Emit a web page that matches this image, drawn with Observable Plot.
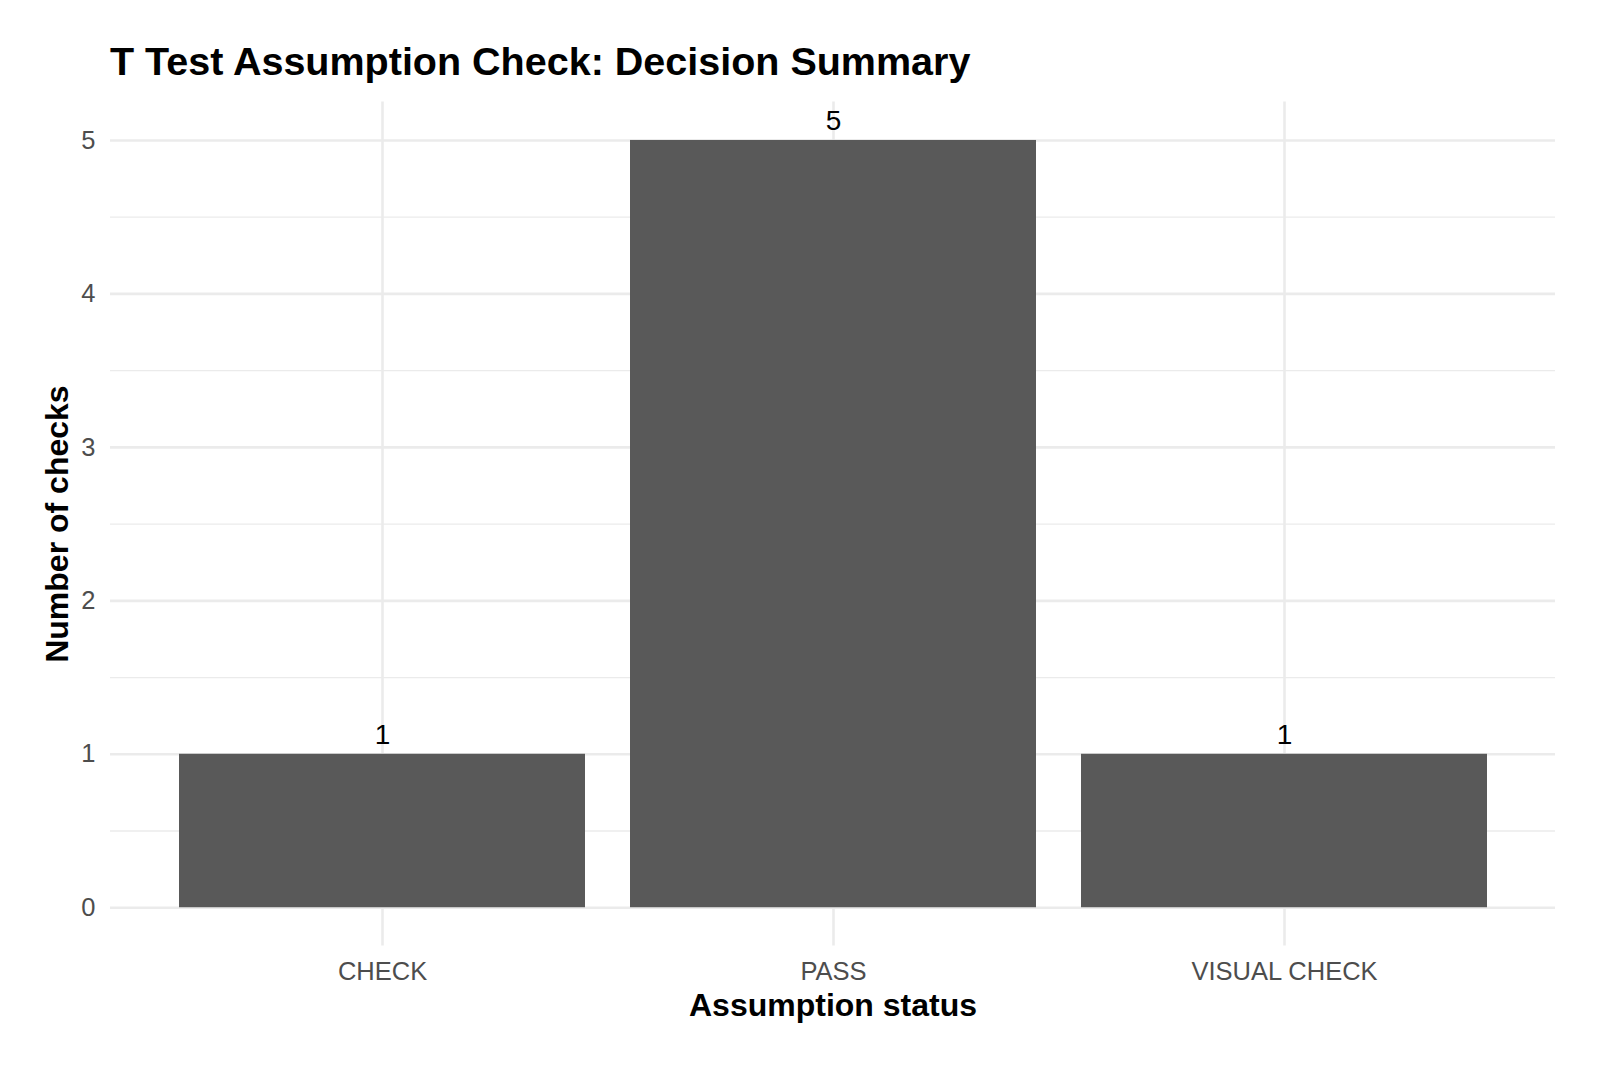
<!DOCTYPE html>
<html>
<head>
<meta charset="utf-8">
<script src="https://cdn.jsdelivr.net/npm/d3@7"></script>
<script src="https://cdn.jsdelivr.net/npm/@observablehq/plot@0.6"></script>
<style>
  html, body { margin: 0; padding: 0; background: #ffffff; }
  #wrap { width: 1600px; height: 1067px; position: relative; overflow: hidden; }
  #title { position: relative; height: 90px; }
  #title span { position: absolute; left: 110px; top: 42px; font-family: "Liberation Sans", Arial, sans-serif;
    font-weight: bold; font-size: 39.5px; line-height: 1; color: #000; white-space: nowrap; }
  svg { display: block; }
</style>
</head>
<body>
<div id="wrap">
  <div id="title"><span>T Test Assumption Check: Decision Summary</span></div>
  <div id="chart"></div>
</div>
<script>
const categories = ["CHECK", "PASS", "VISUAL CHECK"];
const counts = [1, 5, 1];
const yTicks = [0, 1, 2, 3, 4, 5];
const yMinorTicks = [0.5, 1.5, 2.5, 3.5, 4.5];
const xLabel = "Assumption status";
const yLabel = "Number of checks";

const data = categories.map((c, i) => ({category: c, count: counts[i]}));

const svgTop = 90;
const H = 1067 - svgTop;
const panelTop = 101.6 - svgTop;
const panelBottom = 945.6 - svgTop;

const chart = Plot.plot({
  width: 1600,
  height: H,
  marginLeft: 110,
  marginRight: 45,
  marginTop: panelTop,
  marginBottom: H - panelBottom,
  style: {fontFamily: "Liberation Sans, Arial, sans-serif", fontSize: "25px", background: "#ffffff", color: "#000"},
  x: {domain: categories, paddingInner: 0.1, paddingOuter: 0.15, axis: null},
  y: {domain: [-0.25, 5.25], axis: null},
  marks: [
    Plot.gridY(yMinorTicks, {stroke: "#EBEBEB", strokeOpacity: 1, strokeWidth: 1.3}),
    Plot.gridY(yTicks, {stroke: "#EBEBEB", strokeOpacity: 1, strokeWidth: 2.6}),
    Plot.gridX(categories, {stroke: "#EBEBEB", strokeOpacity: 1, strokeWidth: 2.6}),
    Plot.barY(data, {x: "category", y: "count", fill: "#595959"}),
    Plot.text(data, {x: "category", y: "count", text: d => String(d.count), lineAnchor: "bottom", dy: -10, fontSize: 28, fill: "#000"}),
    Plot.axisY(yTicks, {tickSize: 0, tickPadding: 15, fontSize: 25.5, color: "#4D4D4D", label: null, tickFormat: d => String(d)}),
    Plot.axisX(categories, {tickSize: 0, tickPadding: 16, fontSize: 25.5, color: "#4D4D4D", label: null}),
    Plot.text([xLabel], {frameAnchor: "bottom", lineAnchor: "bottom", dy: 70, fontSize: 32, fontWeight: "bold", fill: "#000", text: d => d}),
    Plot.text([yLabel], {frameAnchor: "left", textAnchor: "middle", rotate: -90, dx: -53, fontSize: 32, fontWeight: "bold", fill: "#000", text: d => d})
  ]
});
document.getElementById("chart").appendChild(chart);
</script>
</body>
</html>
